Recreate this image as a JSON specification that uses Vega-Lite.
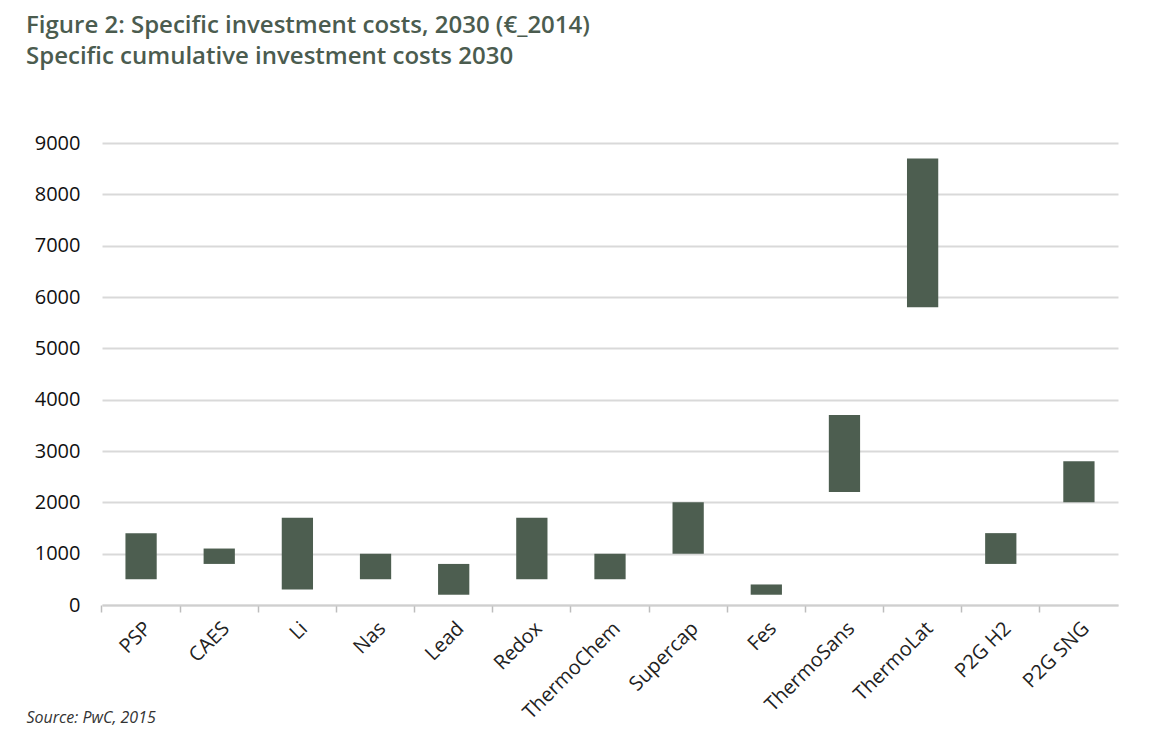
{
  "$schema": "https://vega.github.io/schema/vega-lite/v6.json",
  "width": 1016,
  "height": 462,
  "autosize": "none",
  "padding": {"left": 102, "top": 143, "right": 39, "bottom": 150},
  "background": "white",
  "title": {
    "text": ["Figure 2: Specific investment costs, 2030 (€_2014)", "Specific cumulative investment costs 2030"],
    "anchor": "start",
    "frame": "group",
    "dx": -76,
    "offset": 64,
    "fontSize": 24,
    "lineHeight": 31,
    "font": "Open Sans",
    "fontWeight": 600,
    "color": "#4b5c4f"
  },
  "data": {
    "values": [
      {"tech": "PSP", "low": 500, "high": 1400},
      {"tech": "CAES", "low": 800, "high": 1100},
      {"tech": "Li", "low": 300, "high": 1700},
      {"tech": "Nas", "low": 500, "high": 1000},
      {"tech": "Lead", "low": 200, "high": 800},
      {"tech": "Redox", "low": 500, "high": 1700},
      {"tech": "ThermoChem", "low": 500, "high": 1000},
      {"tech": "Supercap", "low": 1000, "high": 2000},
      {"tech": "Fes", "low": 200, "high": 400},
      {"tech": "ThermoSans", "low": 2200, "high": 3700},
      {"tech": "ThermoLat", "low": 5800, "high": 8700},
      {"tech": "P2G H2", "low": 800, "high": 1400},
      {"tech": "P2G SNG", "low": 2000, "high": 2800}
    ]
  },
  "mark": {"type": "bar", "color": "#4d5e50", "width": {"band": 0.4}},
  "encoding": {
    "x": {
      "field": "tech",
      "type": "nominal",
      "sort": null,
      "scale": {"paddingInner": 0, "paddingOuter": 0},
      "axis": {
        "title": "Source: PwC, 2015",
        "titleFont": "Open Sans",
        "titleFontStyle": "italic",
        "titleFontWeight": "normal",
        "titleFontSize": 16,
        "titleColor": "#333333",
        "titleAnchor": "start",
        "titleAlign": "left",
        "titleX": -76,
        "titleY": 104,
        "labelAngle": -45,
        "labelFont": "Open Sans",
        "labelFontSize": 20,
        "labelColor": "#222222",
        "labelPadding": 6,
        "bandPosition": 0,
        "domainColor": "#cfcfcf",
        "domainWidth": 2,
        "tickColor": "#bdbdbd",
        "tickSize": 7,
        "tickWidth": 1.5,
        "grid": false
      }
    },
    "y": {
      "field": "low",
      "type": "quantitative",
      "scale": {"domain": [0, 9000], "nice": false},
      "axis": {
        "title": null,
        "format": "d",
        "values": [0, 1000, 2000, 3000, 4000, 5000, 6000, 7000, 8000, 9000],
        "labelFont": "Open Sans",
        "labelFontSize": 20,
        "labelColor": "#111111",
        "labelPadding": 22,
        "domain": false,
        "ticks": false,
        "gridColor": "#d9d9d9",
        "gridWidth": 2
      }
    },
    "y2": {"field": "high"}
  },
  "config": {"view": {"stroke": null}}
}
